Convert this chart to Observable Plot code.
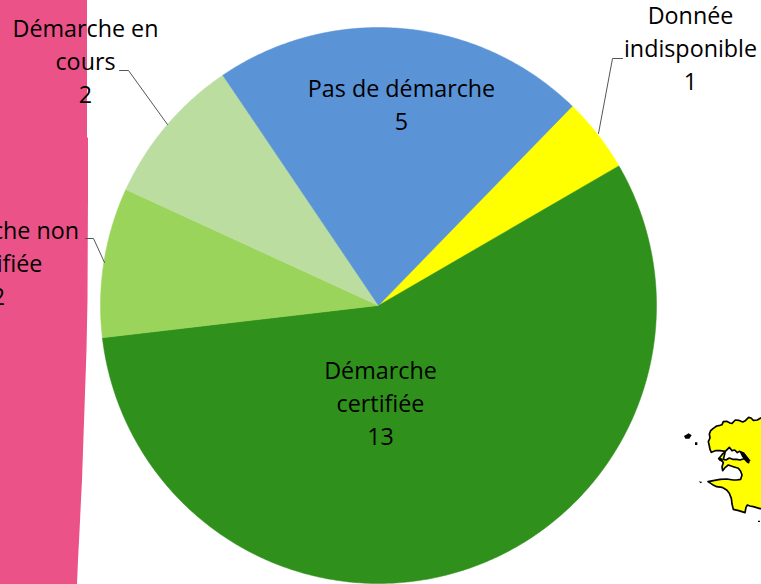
<!DOCTYPE html>
<html lang="fr">
<head>
<meta charset="utf-8">
<script src="https://cdn.jsdelivr.net/npm/d3@7"></script>
<script src="https://cdn.jsdelivr.net/npm/@observablehq/plot@0.6"></script>
<style>
html,body{margin:0;padding:0;background:#fff;overflow:hidden}
#stage{position:relative;width:761px;height:584px;overflow:hidden}
#band{position:absolute;left:0;top:0;width:100px;height:584px;background:#EB5388;
clip-path:polygon(0 0,87px 0,87px 137px,88px 138px,88px 196px,87.5px 300px,86.5px 350px,82px 480px,81px 500px,80px 521px,79px 541px,78px 560px,77px 584px,0 584px)}
#map{position:absolute;left:670px;top:410px;width:91px;height:120px}
#chart{position:absolute;left:0;top:0}
#chart svg{background:transparent;display:block}
</style>
</head>
<body>
<div id="stage">
<div id="band"></div>
<svg id="map" viewBox="0 0 273 360">
<path fill="#ffff00" stroke="#000" stroke-width="5" stroke-linejoin="round" d="M290 28 L272 24 L262 30 L250 31 L243 24 L236 22 L226 32 L218 36 L206 31 L196 30 L186 40 L180 39 L170 34 L160 35 L156 44 L150 46 L140 48 L130 55 L122 62 L118 72 L120 84 L115 95 L118 108 L120 118 L124 127 L136 122 L150 122 L166 124 L156 134 L146 146 L156 152 L160 158 L156 170 L158 182 L166 172 L175 165 L190 170 L205 175 L212 184 L216 195 L212 208 L200 210 L190 210 L170 207 L150 208 L130 212 L114 215 L128 224 L140 230 L156 232 L170 240 L178 250 L184 265 L186 282 L190 298 L206 302 L225 308 L228 292 L232 285 L240 288 L250 290 L270 296 L290 296 Z"/>
<path fill="#fff" stroke="#000" stroke-width="5" stroke-linejoin="round" d="M166 124 L178 112 L186 122 L194 120 L202 128 L208 124 L218 128 L228 142 L236 158 L222 146 L210 150 L200 148 L188 148 L178 144 L168 150 L160 148 Z"/>
<path fill="#000" d="M42 78 L56 70 L65 76 L58 86 L46 86 Z M75 97 H82 V105 H75 Z M86 214 L97 216 L92 220 Z M264 332 H270 V336 H264 Z M208 124 L222 127 L242 152 L232 160 L216 140 Z M146 142 L158 146 L158 156 L148 152 Z"/>
</svg>
<div id="chart"></div>
</div>
<script>
const categories = ["Donnée\nindisponible", "Démarche\ncertifiée", "Démarche non\ncertifiée", "Démarche en\ncours", "Pas de démarche"];
const values = [1, 13, 2, 2, 5];
const colors = ["#FFFF00", "#2F901C", "#9AD45A", "#BBDEA0", "#5B93D7"];

// Page geometry: pie centre and radius, in pixels
const W = 761, H = 584, CX = 378, CY = 305, R = 278;
const START = 44.2 * Math.PI / 180;
const ux = px => (px - CX) / R;
const uy = py => (CY - py) / R;

const arcs = d3.pie().sort(null).startAngle(START).endAngle(START + 2 * Math.PI)(values);
const wedges = arcs.flatMap((a, i) => {
  const n = Math.ceil((a.endAngle - a.startAngle) / 0.01);
  const rim = d3.range(n + 1).map(k => {
    const t = a.startAngle + (a.endAngle - a.startAngle) * k / n;
    return {cat: categories[i], x: Math.sin(t), y: Math.cos(t)};
  });
  return [{cat: categories[i], x: 0, y: 0}, ...rim, {cat: categories[i], x: 0, y: 0}];
});

// Label anchors (pixels), same order as categories
const labelX = [690, 380, -2, 85, 401];
const labelY = [46, 401, 261, 59, 102];
const labels = categories.map((c, i) => ({text: c + "\n" + values[i], x: ux(labelX[i]), y: uy(labelY[i])}));

// Leader lines (pixels)
const leaders = [
  [[622,58],[612,58],[598,133]],
  [[119,70],[128,70],[167,124]],
  [[85,238],[93,238],[104,262]]
].flatMap((l, id) => l.map(([x, y]) => ({id, x: ux(x), y: uy(y)})));

const chart = Plot.plot({
  width: W, height: H,
  margin: 0,
  style: {background: "transparent", overflow: "hidden"},
  x: {domain: [ux(0), ux(W)], range: [0, W], axis: null},
  y: {domain: [uy(H), uy(0)], range: [H, 0], axis: null},
  color: {domain: categories, range: colors},
  marks: [
    Plot.line(wedges, {x: "x", y: "y", z: "cat", fill: "cat", stroke: "cat", strokeWidth: 0.5, curve: "linear"}),
    Plot.line(leaders, {x: "x", y: "y", z: "id", stroke: "#555", strokeWidth: 1}),
    Plot.text(labels, {x: "x", y: "y", text: "text", fontFamily: "Open Sans", fontSize: 23.3, lineHeight: 1.416, fill: "#000", textAnchor: "middle"})
  ]
});
document.getElementById("chart").appendChild(chart);
</script>
</body>
</html>
